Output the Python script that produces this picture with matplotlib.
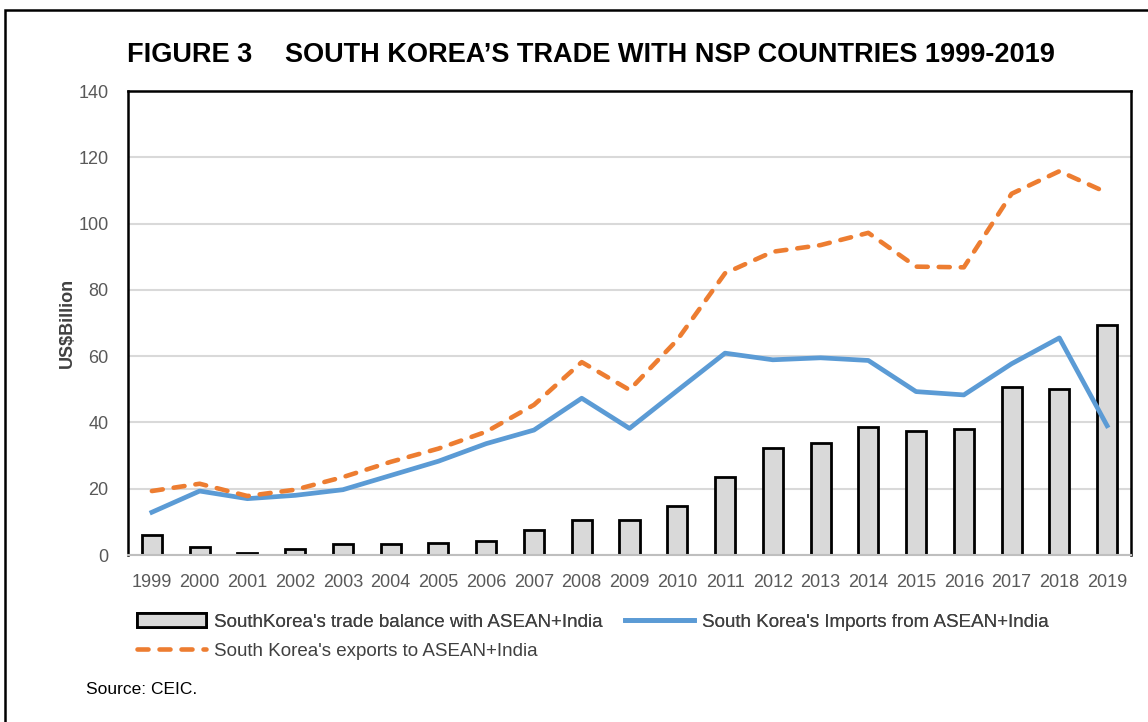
import numpy as np
import matplotlib.pyplot as plt
from matplotlib.patches import Rectangle, Patch
from matplotlib.lines import Line2D

plt.rcParams['font.family'] = ['Liberation Sans', 'DejaVu Sans']

years = [str(y) for y in range(1999, 2020)]
trade_balance = [6.1, 2.3, 0.7, 1.7, 3.3, 3.3, 3.7, 4.1, 7.5, 10.7, 10.6,
                 14.7, 23.5, 32.2, 33.7, 38.5, 37.5, 38.1, 50.7, 50.1, 69.4]
imports = [12.9, 19.3, 17.0, 18.0, 19.7, 24.0, 28.3, 33.6, 37.7, 47.3, 38.2,
           49.6, 60.9, 58.9, 59.5, 58.7, 49.3, 48.3, 57.7, 65.5, 39.0]
exports = [19.3, 21.5, 17.8, 19.7, 23.5, 28.1, 32.1, 37.2, 45.3, 58.2, 49.8,
           64.9, 85.0, 91.5, 93.5, 97.2, 87.0, 86.8, 109.0, 115.8, 109.3]

grey_txt = '#595959'
fig = plt.figure(figsize=(11.48, 7.22), dpi=100)
ax = fig.add_axes([128 / 1148, 1 - 555 / 722, (1131 - 128) / 1148, (555 - 91) / 722])

x = np.arange(len(years))
ax.bar(x, trade_balance, width=0.42, color='#d9d9d9', edgecolor='black', linewidth=2, zorder=2)
ax.plot(x, imports, color='#5b9bd5', linewidth=3.4, zorder=3)
ax.plot(x, exports, color='#ed7d31', linewidth=3.3, linestyle=(0, (2.4, 2.4)),
        dash_capstyle='round', zorder=3)

ax.set_xlim(-0.5, len(years) - 0.5)
ax.set_ylim(0, 140)
ax.set_yticks(range(0, 141, 20))
ax.set_xticks(x)
ax.set_xticklabels(years)
ax.tick_params(axis='both', length=0, labelsize=13, colors=grey_txt)
ax.tick_params(axis='x', pad=14)
ax.tick_params(axis='y', pad=14)
ax.grid(axis='y', color='#d9d9d9', linewidth=1.5, zorder=0)
ax.set_axisbelow(True)
for s in ['left', 'right', 'top']:
    ax.spines[s].set_color('black')
    ax.spines[s].set_linewidth(1.8)
ax.spines['bottom'].set_color('#bfbfbf')
ax.spines['bottom'].set_linewidth(1.5)

ax.set_ylabel('US$Billion', fontsize=13, fontweight='bold', color='#404040', labelpad=2)

# title
fig.text(127 / 1148, 1 - 55 / 722, 'FIGURE 3', fontsize=19.5, fontweight='bold',
         va='center', ha='left', color='black')
fig.text(285 / 1148, 1 - 55 / 722, 'SOUTH KOREA\u2019S TRADE WITH NSP COUNTRIES 1999-2019',
         fontsize=19.5, fontweight='bold', va='center', ha='left', color='black')

# legend
handles1 = [Patch(facecolor='#d9d9d9', edgecolor='black', linewidth=2),
            Line2D([0], [0], color='#5b9bd5', linewidth=3.4)]
leg1 = fig.legend(handles1, ["SouthKorea's trade balance with ASEAN+India",
                             "South Korea's Imports from ASEAN+India"],
                  loc='center left', bbox_to_anchor=(137 / 1148, 1 - 622 / 722), ncol=2,
                  frameon=False, fontsize=13.5, labelcolor='#404040', handlelength=3.7,
                  handleheight=0.75, handletextpad=0.4, columnspacing=1.2, borderaxespad=0,
                  borderpad=0)
handles2 = [Line2D([0], [0], color='#ed7d31', linewidth=3.3, linestyle=(0, (2.4, 2.4)),
                   dash_capstyle='round')]
leg2 = fig.legend(handles2, ["South Korea's exports to ASEAN+India"],
                  loc='center left', bbox_to_anchor=(137 / 1148, 1 - 651 / 722),
                  frameon=False, fontsize=13.5, labelcolor='#404040', handlelength=3.7,
                  handletextpad=0.4, borderaxespad=0, borderpad=0)
fig.add_artist(leg1)

fig.text(86 / 1148, 1 - 690 / 722, 'Source: CEIC.', fontsize=12.5, va='center', ha='left',
         color='black')

fig.add_artist(Rectangle((5 / 1148, -0.05), 1.2, 1.05 - 10 / 722, transform=fig.transFigure,
                         fill=False, edgecolor='black', linewidth=1.8))

fig.savefig('out.png', dpi=100)
